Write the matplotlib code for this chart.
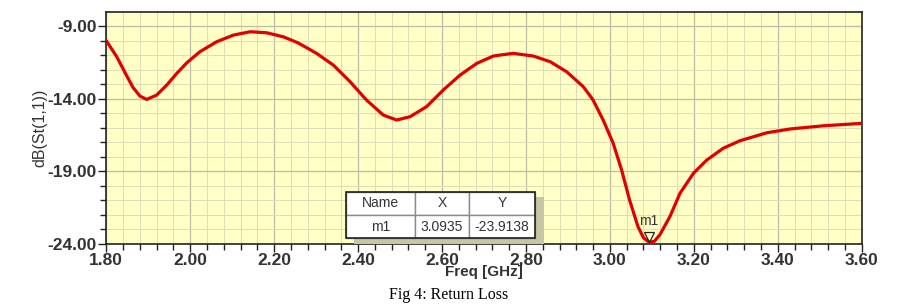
import matplotlib
matplotlib.use("Agg")
import matplotlib.pyplot as plt
from matplotlib.patches import Rectangle
from matplotlib.ticker import MultipleLocator, FormatStrFormatter

# values
freq_ghz = [1.800, 1.825, 1.849, 1.864, 1.880, 1.896, 1.920, 1.944, 1.968,
            1.992, 2.023, 2.063, 2.103, 2.143, 2.182, 2.222, 2.254, 2.262, 2.301,
            2.341, 2.381, 2.420, 2.460, 2.492, 2.524, 2.563, 2.603, 2.643, 2.683,
            2.722, 2.738, 2.770, 2.818, 2.858, 2.897, 2.937, 2.960, 2.984, 3.008,
            3.028, 3.047, 3.067, 3.080, 3.0935, 3.106, 3.119, 3.143, 3.167, 3.199,
            3.231, 3.270, 3.310, 3.374, 3.429, 3.508, 3.600]
s11_db = [-10.01, -11.12, -12.45, -13.25, -13.82, -14.06, -13.76, -13.07, -12.26,
          -11.53, -10.77, -10.08, -9.62, -9.39, -9.46, -9.74, -10.12, -10.24, -10.88,
          -11.69, -12.84, -14.10, -15.14, -15.48, -15.25, -14.56, -13.41, -12.38, -11.57,
          -11.07, -11.00, -10.88, -11.07, -11.46, -12.15, -13.19, -14.10, -15.48, -17.09,
          -18.93, -21.00, -22.84, -23.60, -23.9138, -23.85, -23.40, -22.15, -20.54, -19.16,
          -18.24, -17.43, -16.91, -16.36, -16.10, -15.88, -15.71]

marker_name = "m1"
marker_x = 3.0935
marker_y = -23.9138

table_header = ["Name", "X", "Y"]
table_row = ["m1", "3.0935", "-23.9138"]

fig = plt.figure(figsize=(8.97, 3.05), dpi=100)
fig.patch.set_facecolor("white")
ax = fig.add_axes([0.1185, 0.2016, 0.8421, 0.758])
ax.set_facecolor("#FFFFC6")

ax.plot(freq_ghz, s11_db, color="#E00000", linewidth=2.3, solid_capstyle="round",
        solid_joinstyle="round", zorder=3)

ax.set_xlim(1.80, 3.60)
ax.set_ylim(-24.0, -8.05)

ax.xaxis.set_major_locator(MultipleLocator(0.2))
ax.xaxis.set_minor_locator(MultipleLocator(0.04))
ax.yaxis.set_minor_locator(MultipleLocator(1.0))
ax.set_yticks([-9, -14, -19, -24])
ax.xaxis.set_major_formatter(FormatStrFormatter("%.2f"))
ax.yaxis.set_major_formatter(FormatStrFormatter("%.2f"))

ax.grid(which="major", color="#BEBEA8", linewidth=0.9)
ax.grid(which="minor", color="#DCDCB8", linewidth=0.7)
ax.set_axisbelow(True)

for side in ["left", "bottom", "top", "right"]:
    ax.spines[side].set_color("#222222")
    ax.spines[side].set_linewidth(1.2)

ax.tick_params(which="major", direction="out", length=6, width=1.0, color="#222222",
               labelsize=12.5, labelcolor="#333333", pad=1)
ax.tick_params(which="minor", direction="out", length=4, width=1.0, color="#222222")
ax.tick_params(axis="x", which="both", top=False)
ax.tick_params(axis="y", which="both", right=False)
for lbl in ax.get_xticklabels() + ax.get_yticklabels():
    lbl.set_fontweight("bold")
    lbl.set_family("Liberation Sans")

ax.set_xlabel("Freq [GHz]", fontsize=11, fontweight="bold", color="#333333",
              family="Liberation Sans", labelpad=-2)
ax.set_ylabel("dB(St(1,1))", fontsize=11.5, color="#333333",
              family="Liberation Sans", labelpad=0)

# marker m1
ax.plot([marker_x], [marker_y + 0.35], marker="v", markersize=7, markerfacecolor="none",
        markeredgecolor="#222222", markeredgewidth=0.9, zorder=4, clip_on=False)
ax.text(marker_x, marker_y + 1.5, marker_name, fontsize=10, color="#333333",
        family="Liberation Sans", ha="center", va="center", zorder=4)

# marker table with shadow
tx0, ty0, tw, th = 0.317, 0.0225, 0.2505, 0.2015
shadow = Rectangle((tx0 + 0.0115, 0.0), tw, th, transform=ax.transAxes,
                   facecolor="#C6C6A6", edgecolor="none", zorder=5)
ax.add_patch(shadow)
tab = ax.table(cellText=[table_row], colLabels=table_header, cellLoc="center",
               colWidths=[0.366, 0.284, 0.350], bbox=[tx0, ty0, tw, th], zorder=6)
tab.auto_set_font_size(False)
for (r, c), cell in tab.get_celld().items():
    cell.set_facecolor("white")
    cell.set_edgecolor("#8A8A8A")
    cell.set_linewidth(1.0)
    cell.get_text().set_fontsize(10)
    cell.get_text().set_color("#333333")
    cell.get_text().set_family("Liberation Sans")
    cell.set_zorder(6)
border = Rectangle((tx0, ty0), tw, th, transform=ax.transAxes, facecolor="none",
                   edgecolor="#222222", linewidth=1.2, zorder=7)
ax.add_patch(border)

fig.text(0.500, 0.033, "Fig 4: Return Loss", fontsize=11.5, family="Liberation Serif",
         ha="center", va="center", color="black")

fig.savefig("out.png", dpi=100)
